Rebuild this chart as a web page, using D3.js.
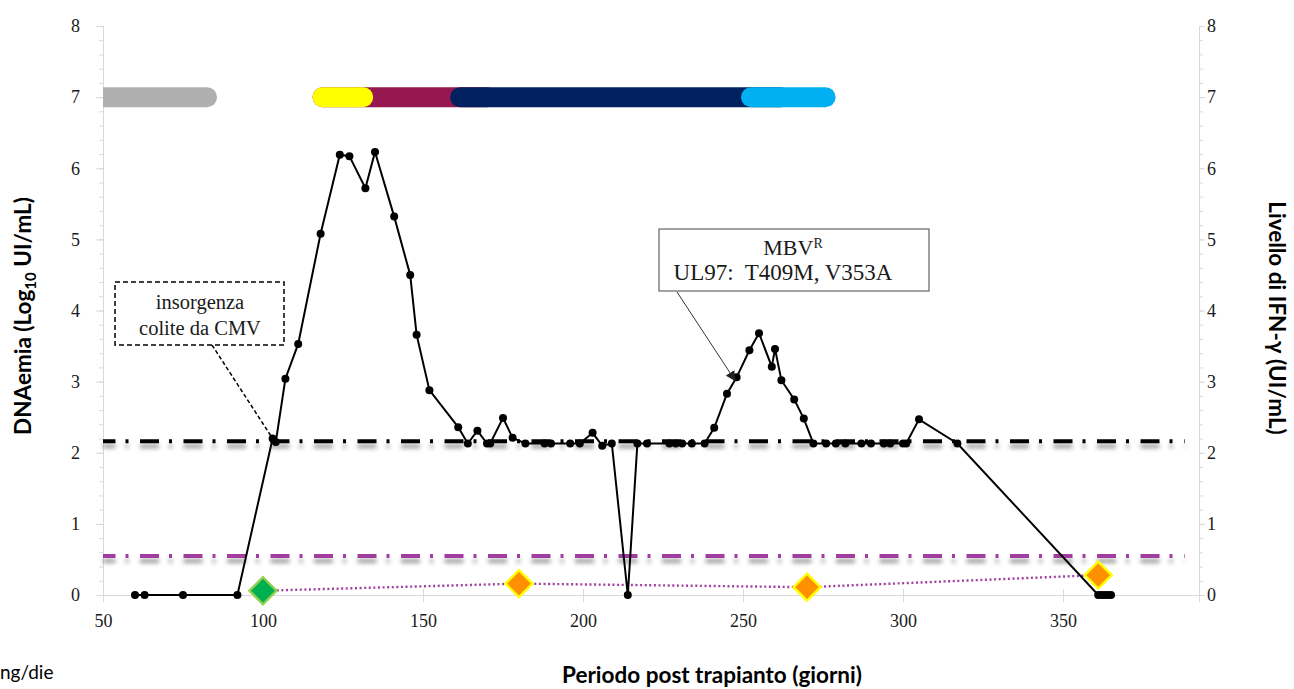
<!DOCTYPE html>
<html><head><meta charset="utf-8">
<script src="https://cdn.jsdelivr.net/npm/d3@7"></script>
<style>body{margin:0;background:#fff} svg{display:block}</style>
</head><body><svg id="c" width="1294" height="689"></svg>
<script>
// ---- data ----
const days = [60, 63, 75, 92, 103, 104, 107, 111, 118, 124, 127, 132, 135, 141, 146, 148, 152, 161, 164, 167, 170, 171, 175, 178, 182, 188, 190, 196, 199, 203, 206, 209, 214, 217, 220, 227, 229, 231, 234, 238, 241, 245, 248, 252, 255, 259, 260, 262, 266, 269, 272, 276, 279, 282, 287, 290, 294, 296, 300, 301, 305, 317, 361, 362, 363, 364, 365];
const dnaemia = [0, 0, 0, 0, 2.2, 2.15, 3.04, 3.53, 5.08, 6.19, 6.17, 5.72, 6.23, 5.32, 4.5, 3.66, 2.88, 2.36, 2.13, 2.31, 2.13, 2.13, 2.49, 2.21, 2.13, 2.13, 2.13, 2.13, 2.13, 2.28, 2.10, 2.13, 0, 2.13, 2.13, 2.13, 2.13, 2.13, 2.13, 2.13, 2.35, 2.83, 3.06, 3.44, 3.68, 3.21, 3.46, 3.02, 2.75, 2.48, 2.13, 2.13, 2.13, 2.13, 2.13, 2.13, 2.13, 2.13, 2.13, 2.13, 2.47, 2.13, 0, 0, 0, 0, 0];
const ifnDays = [100, 180, 270, 361];
const ifnValues = [0.06, 0.16, 0.11, 0.28];
const thresholdDna = 2.16;
const thresholdIfn = 0.55;
const therapyStart = [40, 118.6, 118.6, 161.6, 252.5];
const therapyEnd = [82.5, 170, 131.3, 262, 275.8];
const therapyLevel = 7;
const xTicks = [50, 100, 150, 200, 250, 300, 350];
const yTicks = [0, 1, 2, 3, 4, 5, 6, 7, 8];

// ---- styles ----
const therapyColors = ["#afafaf", "#951950", "#ffff00", "#002060", "#00b0f0"];
const diamondFill = ["#00b050", "#ff9000", "#ff9000", "#ff9000"];
const diamondStroke = ["#92d050", "#ffff00", "#ffff00", "#ffff00"];
const axisColor = "#d9d9d9";
const purple = "#a23ea0";

const svg = d3.select("#c");
const x = d3.scaleLinear().domain([50, 392.5]).range([103, 1199]);
const y = d3.scaleLinear().domain([0, 8]).range([595, 26]);
const yR = d3.scaleLinear().domain([0, 8]).range([595, 26]);

const defs = svg.append("defs");
defs.append("clipPath").attr("id", "plot").append("rect")
  .attr("x", x(50)).attr("y", 0).attr("width", x(392.5) - x(50)).attr("height", 689);
const f = defs.append("filter").attr("id", "shadow").attr("filterUnits", "userSpaceOnUse")
  .attr("x", 0).attr("y", 0).attr("width", 1294).attr("height", 689);
f.append("feGaussianBlur").attr("in", "SourceAlpha").attr("stdDeviation", 2).attr("result", "b");
f.append("feOffset").attr("in", "b").attr("dy", 5).attr("result", "o");
f.append("feFlood").attr("flood-color", "#000").attr("flood-opacity", 0.4);
f.append("feComposite").attr("in2", "o").attr("operator", "in").attr("result", "s");
const fm = f.append("feMerge");
fm.append("feMergeNode").attr("in", "s");
fm.append("feMergeNode").attr("in", "SourceGraphic");

// ---- axes ----
const serif = "'Liberation Serif', 'Times New Roman', serif";
function styleAxis(g) {
  g.attr("font-family", null);
  g.selectAll("path.domain").attr("stroke", axisColor).attr("stroke-width", 1);
  g.selectAll(".tick line").attr("stroke", axisColor);
  g.selectAll("text").style("font-family", serif).style("font-size", "18px").attr("fill", "#1a1a1a");
}
const minor = d3.range(0, 8.001, 0.2);
svg.append("g").attr("transform", `translate(${x(50)},0)`)
  .call(d3.axisLeft(y).tickValues(minor).tickSize(4).tickFormat("")).call(styleAxis);
svg.append("g").attr("transform", `translate(${x(50)},0)`)
  .call(d3.axisLeft(y).tickValues(yTicks).tickSize(7).tickPadding(16).tickFormat(d3.format("d"))).call(styleAxis);
svg.append("g").attr("transform", `translate(${x(392.5)},0)`)
  .call(d3.axisRight(yR).tickValues(minor).tickSize(4).tickFormat("")).call(styleAxis);
svg.append("g").attr("transform", `translate(${x(392.5)},0)`)
  .call(d3.axisRight(yR).tickValues(yTicks).tickSize(6).tickPadding(2).tickFormat(d3.format("d"))).call(styleAxis);
const xa = svg.append("g").attr("transform", `translate(0,${y(0)})`)
  .call(d3.axisBottom(x).tickValues(xTicks).tickSize(7).tickPadding(12).tickFormat(d3.format("d"))).call(styleAxis);
xa.selectAll(".tick line").attr("y1", -6);

// ---- therapy bars ----
const bars = svg.append("g").attr("clip-path", "url(#plot)");
therapyStart.forEach((s, i) => {
  bars.append("line")
    .attr("x1", x(s)).attr("x2", x(therapyEnd[i]))
    .attr("y1", y(therapyLevel)).attr("y2", y(therapyLevel))
    .attr("stroke", therapyColors[i]).attr("stroke-width", 20).attr("stroke-linecap", "round");
});

// ---- thresholds ----
function threshold(v, color) {
  svg.append("line").attr("x1", x(50)).attr("x2", x(388))
    .attr("y1", y(v)).attr("y2", y(v))
    .attr("stroke", color).attr("stroke-width", 4)
    .attr("stroke-dasharray", "19 10 3 11.5").attr("stroke-dashoffset", 6.5)
    .attr("filter", "url(#shadow)");
}
threshold(thresholdDna, "#000");
threshold(thresholdIfn, purple);

// ---- IFN series ----
const ifn = ifnDays.map((d, i) => [d, ifnValues[i]]);
svg.append("path").datum(ifn)
  .attr("d", d3.line().x(d => x(d[0])).y(d => yR(d[1])))
  .attr("fill", "none").attr("stroke", purple).attr("stroke-width", 2.4)
  .attr("stroke-dasharray", "2 2.6");
svg.selectAll("path.dia").data(ifn).enter().append("path")
  .attr("class", "dia")
  .attr("transform", d => `translate(${x(d[0])},${yR(d[1])})`)
  .attr("d", "M0,-13.5L13.5,0L0,13.5L-13.5,0Z")
  .attr("fill", (d, i) => diamondFill[i]).attr("stroke", (d, i) => diamondStroke[i]).attr("stroke-width", 2.4);

// ---- DNAemia series ----
const dna = days.map((d, i) => [d, dnaemia[i]]);
svg.append("path").datum(dna)
  .attr("d", d3.line().x(d => x(d[0])).y(d => y(d[1])))
  .attr("fill", "none").attr("stroke", "#000").attr("stroke-width", 2);
svg.selectAll("circle.pt").data(dna).enter().append("circle")
  .attr("class", "pt").attr("cx", d => x(d[0])).attr("cy", d => y(d[1])).attr("r", 4).attr("fill", "#000");

// ---- annotations ----
svg.append("line").attr("x1", 212).attr("y1", 345).attr("x2", x(103)).attr("y2", y(2.2))
  .attr("stroke", "#000").attr("stroke-width", 1.5).attr("stroke-dasharray", "4 2.5");
svg.append("rect").attr("x", 115).attr("y", 282).attr("width", 169).attr("height", 63)
  .attr("fill", "#fff").attr("stroke", "#000").attr("stroke-width", 1.5).attr("stroke-dasharray", "5 3");
svg.append("text").attr("x", 200).attr("y", 309).attr("text-anchor", "middle")
  .attr("font-family", serif).attr("font-size", 20.5).attr("fill", "#1a1a1a").text("insorgenza");
svg.append("text").attr("x", 200).attr("y", 335).attr("text-anchor", "middle")
  .attr("font-family", serif).attr("font-size", 20.5).attr("fill", "#1a1a1a").text("colite da CMV");

defs.append("marker").attr("id", "arr").attr("viewBox", "0 0 10 10").attr("refX", 9).attr("refY", 5)
  .attr("markerWidth", 10).attr("markerHeight", 10).attr("markerUnits", "userSpaceOnUse").attr("orient", "auto")
  .append("path").attr("d", "M0,0L10,5L0,10Z").attr("fill", "#222");
svg.append("line").attr("x1", 677).attr("y1", 292).attr("x2", x(247.5)).attr("y2", y(3.06) + 3)
  .attr("stroke", "#333").attr("stroke-width", 1).attr("marker-end", "url(#arr)");
svg.append("rect").attr("x", 659).attr("y", 229).attr("width", 270).attr("height", 62)
  .attr("fill", "#fff").attr("stroke", "#444").attr("stroke-width", 1);
const t1 = svg.append("text").attr("x", 793).attr("y", 255).attr("text-anchor", "middle")
  .attr("font-family", serif).attr("font-size", 22).attr("fill", "#1a1a1a");
t1.append("tspan").text("MBV");
t1.append("tspan").attr("font-size", 14).attr("dy", -7).text("R");
svg.append("text").attr("x", 783).attr("y", 280).attr("text-anchor", "middle")
  .attr("font-family", serif).attr("font-size", 23).attr("fill", "#1a1a1a").attr("xml:space", "preserve")
  .text("UL97:  T409M, V353A");

// ---- titles ----
const sans = "Lato, 'Open Sans', sans-serif";
svg.append("text").attr("x", 712).attr("y", 683).attr("text-anchor", "middle")
  .attr("font-family", sans).attr("font-weight", "bold").attr("font-size", 22.5).attr("fill", "#000")
  .text("Periodo post trapianto (giorni)");
const lt = svg.append("text").attr("transform", "translate(31,316) rotate(-90)").attr("text-anchor", "middle")
  .attr("font-family", sans).attr("font-weight", "bold").attr("font-size", 22.5).attr("fill", "#000");
lt.append("tspan").text("DNAemia (Log");
lt.append("tspan").attr("font-size", 15).attr("dy", 5).text("10");
lt.append("tspan").attr("dy", -5).text(" UI/mL)");
svg.append("text").attr("transform", "translate(1269,318) rotate(90)").attr("text-anchor", "middle")
  .attr("font-family", sans).attr("font-weight", "bold").attr("font-size", 22.5).attr("fill", "#000")
  .text("Livello di IFN-γ (UI/mL)");
svg.append("text").attr("x", 0).attr("y", 679)
  .attr("font-family", sans).attr("font-size", 19).attr("fill", "#000").text("ng/die");
</script></body></html>
